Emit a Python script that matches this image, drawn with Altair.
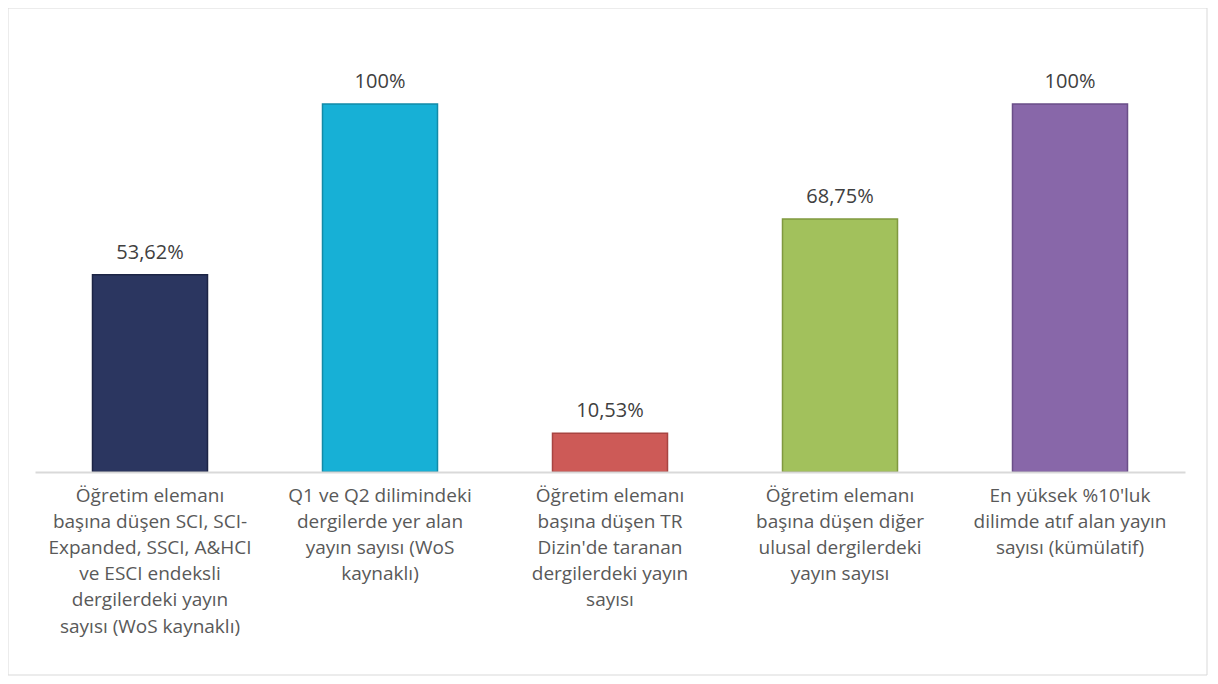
import altair as alt
import pandas as pd

categories = [
    "Öğretim elemanı|başına düşen SCI, SCI-|Expanded, SSCI, A&HCI|ve ESCI  endeksli|dergilerdeki yayın|sayısı (WoS kaynaklı)",
    "Q1 ve Q2 dilimindeki|dergilerde yer alan|yayın sayısı  (WoS|kaynaklı)",
    "Öğretim elemanı|başına düşen TR|Dizin'de taranan|dergilerdeki yayın|sayısı",
    "Öğretim elemanı|başına düşen diğer|ulusal dergilerdeki|yayın sayısı",
    "En yüksek %10'luk|dilimde atıf alan yayın|sayısı (kümülatif)",
]
values = [0.5362, 1.0, 0.1053, 0.6875, 1.0]
value_labels = ["53,62%", "100%", "10,53%", "68,75%", "100%"]
colors = ["#2b3660", "#17b0d6", "#cd5a57", "#a2c15c", "#8867a9"]
strokes = ["#1c2445", "#128aa8", "#a84441", "#80993f", "#6a4e88"]

df = pd.DataFrame({"cat": categories, "value": values, "label": value_labels,
                   "color": colors, "stroke": strokes})

x = alt.X("cat:N", sort=None, title=None,
          scale=alt.Scale(paddingInner=0.5, paddingOuter=0.25),
          axis=alt.Axis(labelExpr="split(datum.label, '|')", labelAngle=0,
                        labelFontSize=19, labelFont="Open Sans", labelColor="#595959",
                        labelLineHeight=26.2, labelLimit=400, labelPadding=14,
                        labelBaseline="top", zindex=1,
                        ticks=False, domainColor="#d9d9d9", domainWidth=2))
y = alt.Y("value:Q", scale=alt.Scale(domain=[0, 1]), axis=None, title=None)

frame = alt.Chart(pd.DataFrame({"a": [0]})).mark_rect(
    filled=False, stroke="#d9d9d9", strokeWidth=1
).encode(x=alt.value(-27), x2=alt.value(1172), y=alt.value(-96), y2=alt.value(571))

bars = alt.Chart(df).mark_bar(strokeWidth=1.5).encode(
    x=x, y=y,
    fill=alt.Color("color:N", scale=None),
    stroke=alt.Color("stroke:N", scale=None),
)

text = alt.Chart(df).mark_text(
    baseline="bottom", dy=-12, fontSize=20, font="Open Sans", color="#404040"
).encode(x=alt.X("cat:N", sort=None), y=y, text="label:N")

chart = alt.layer(frame, bars, text).properties(
    width=1150, height=368,
    autosize=alt.AutoSizeParams(type="none"),
    padding={"left": 27, "top": 96, "right": 23, "bottom": 204},
).configure_view(stroke=None)

chart.save("out.html", embed_options={"renderer": "svg", "actions": False})
